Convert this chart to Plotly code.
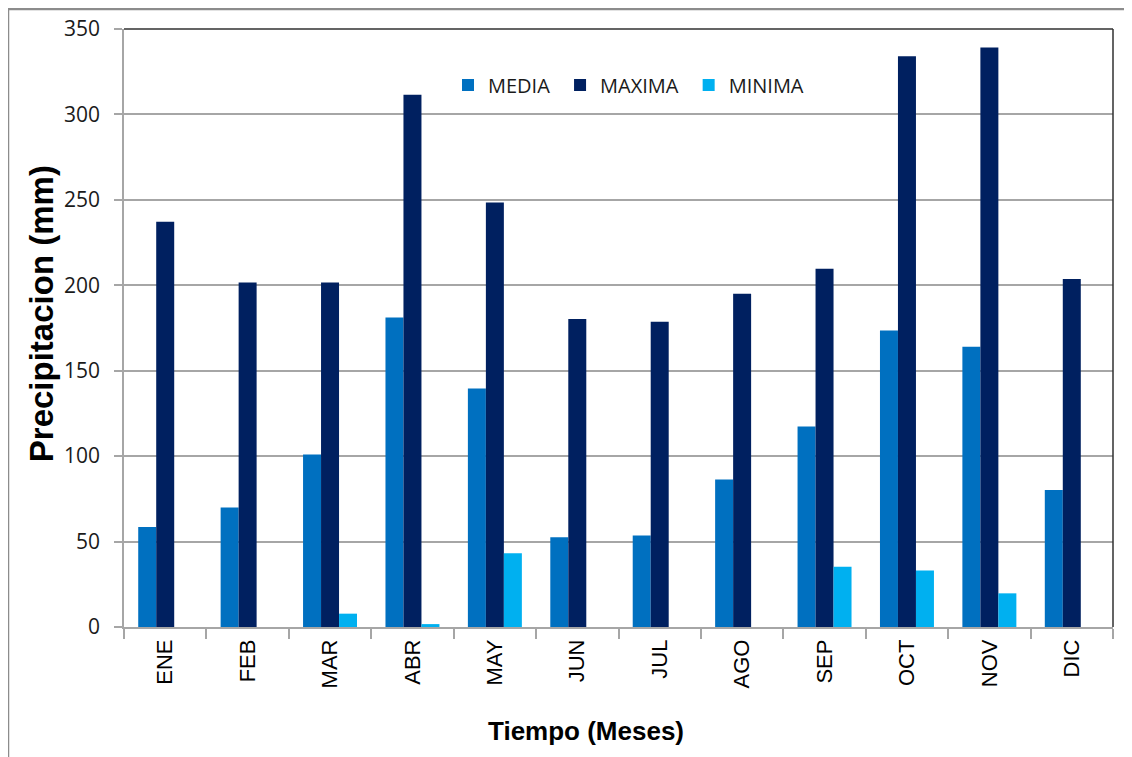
import plotly.graph_objects as go

meses = ["ENE", "FEB", "MAR", "ABR", "MAY", "JUN", "JUL", "AGO", "SEP", "OCT", "NOV", "DIC"]
media = [58.5, 69.9, 101.0, 181.2, 139.6, 52.5, 53.5, 86.3, 117.4, 173.6, 164.0, 80.2]
maxima = [237.2, 201.7, 201.7, 311.5, 248.4, 180.2, 178.7, 195.1, 209.7, 334.0, 339.2, 203.7]
minima = [0.0, 0.0, 7.8, 1.7, 43.1, 0.0, 0.0, 0.0, 35.3, 33.0, 19.7, 0.0]
yticks = [0, 50, 100, 150, 200, 250, 300, 350]

# page body margin offset (browser default)
O = 8
W, H = 1132 - O, 757 - O
# plot area in reference pixel coordinates
PX0, PX1, PY0, PY1 = 124, 1113, 29, 626.6
L, T = PX0 - O, PY0 - O
R, B = W - (PX1 - O), H - (PY1 - O)
pw, ph = PX1 - PX0, PY1 - PY0

def px_x(x):
    return (x - PX0) / pw

def px_y(y):
    return 1 - (y - PY0) / ph

fig = go.Figure()
fig.add_trace(go.Bar(name="MEDIA\u00a0", x=meses, y=media, marker=dict(color="#0070C0", line=dict(width=0))))
fig.add_trace(go.Bar(name="MAXIMA\u00a0", x=meses, y=maxima, marker=dict(color="#002060", line=dict(width=0))))
fig.add_trace(go.Bar(name="MINIMA", x=meses, y=minima, marker=dict(color="#00B0F0", line=dict(width=0))))

grid = "#A6A6A6"
fig.update_layout(
    width=W, height=H,
    margin=dict(l=L, r=R, t=T, b=B, autoexpand=False),
    paper_bgcolor="white", plot_bgcolor="white",
    barmode="group", bargap=0.345, bargroupgap=0,
    showlegend=True,
    legend=dict(orientation="h", x=px_x(448), xanchor="left", y=px_y(85), yanchor="middle",
                font=dict(family="Open Sans", size=20, color="#1a1a1a"),
                bgcolor="rgba(0,0,0,0)", itemclick=False, traceorder="normal"),
    xaxis=dict(type="category", tickson="boundaries", ticks="outside", ticklen=10,
               tickcolor=grid, tickwidth=1.5, showline=True, linecolor=grid, linewidth=1.5,
               tickangle=-90, tickfont=dict(family="Liberation Sans", size=22, color="black"),
               ticklabelstandoff=2, showgrid=False),
    yaxis=dict(range=[0, 350], tickvals=yticks, ticks="outside", ticklen=8, tickcolor=grid,
               tickwidth=1.5, showline=True, linecolor=grid, linewidth=1.5,
               showgrid=True, gridcolor=grid, gridwidth=1.5, zeroline=False,
               ticklabelstandoff=10,
               tickfont=dict(family="Open Sans", size=21, color="#1a1a1a")),
    shapes=[
        dict(type="line", xref="paper", yref="paper", x0=0, x1=1, y0=1, y1=1,
             line=dict(color="#303030", width=1.5)),
        dict(type="line", xref="paper", yref="paper", x0=1, x1=1, y0=0, y1=1,
             line=dict(color="#303030", width=1.5)),
        dict(type="line", xref="paper", yref="paper", x0=px_x(8), x1=px_x(8), y0=px_y(770), y1=px_y(8.5),
             line=dict(color="#8C8C8C", width=2.5)),
        dict(type="line", xref="paper", yref="paper", x0=px_x(8), x1=px_x(1150), y0=px_y(9), y1=px_y(9),
             line=dict(color="#8C8C8C", width=2.5)),
    ],
    annotations=[
        dict(text="<b>Tiempo (Meses)</b>", xref="paper", yref="paper", x=px_x(586), y=px_y(731),
             xanchor="center", yanchor="middle", showarrow=False,
             font=dict(family="Liberation Sans", size=26, color="black")),
        dict(text="<b>Precipitacion (mm)</b>", xref="paper", yref="paper", x=px_x(41), y=px_y(314),
             xanchor="center", yanchor="middle", showarrow=False, textangle=-90,
             font=dict(family="Liberation Sans", size=33, color="black")),
    ],
)

fig.write_html("out.html")
